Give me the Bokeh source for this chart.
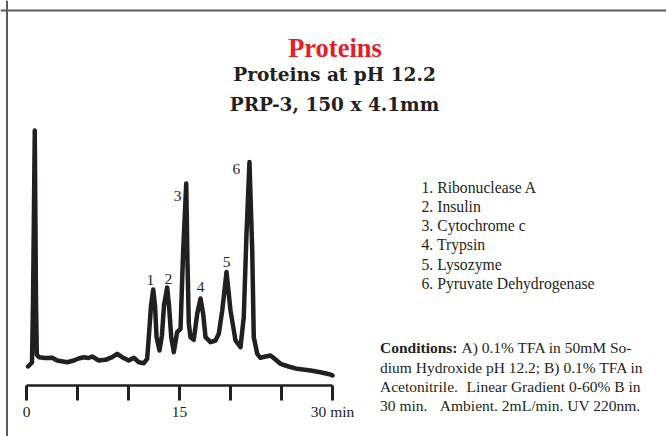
from bokeh.plotting import figure
from bokeh.models import Range1d, LinearAxis, FixedTicker, Label, Span, ColumnDataSource
from bokeh.embed import file_html
from bokeh.resources import INLINE

# ---- data (retention time in min, detector response in arbitrary units) ----
time_min = [0.15, 0.54, 0.64, 0.81, 0.93, 1.01, 1.21, 1.86, 2.52, 3.01, 3.99, 4.64, 5.10,
            5.62, 6.08, 6.44, 7.09, 7.75, 8.40, 8.89, 9.38, 10.03, 10.52, 11.01, 11.50,
            11.83, 11.99, 12.21, 12.42, 12.60, 12.75, 13.04, 13.28, 13.48, 13.79, 13.97,
            14.19, 14.44, 14.77, 15.10, 15.36, 15.66, 15.78, 15.91, 16.08, 16.40, 16.74,
            17.06, 17.32, 17.55, 18.04, 18.53, 18.85, 19.19, 19.61, 20.00, 20.49, 20.98,
            21.30, 21.57, 21.86, 22.13, 22.28, 22.62, 22.94, 23.43, 23.92, 24.41, 24.90,
            25.69, 26.54, 27.84, 28.82, 29.80, 30.00]
response = [18.5, 22.5, 84.5, 254.5, 84.5, 30.5, 27.8, 27.0, 27.2, 24.5, 22.8, 24.5, 26.5,
            27.8, 27.0, 28.5, 24.5, 25.2, 27.8, 31.2, 27.8, 24.5, 27.2, 22.8, 21.8,
            26.2, 47.8, 79.5, 95.5, 79.5, 47.8, 34.5, 49.5, 79.5, 97.5, 79.5,
            47.8, 32.8, 52.8, 56.2, 134.5, 201.5, 124.5, 61.5, 47.8, 45.2, 71.5,
            86.5, 71.2, 47.8, 42.8, 44.5, 51.2, 74.5, 113.0, 74.5, 44.5, 37.8,
            67.8, 151.5, 223.0, 134.5, 47.8, 31.2, 27.2, 28.5, 29.5, 25.5, 21.2,
            18.5, 16.2, 14.5, 12.8, 10.5, 9.5]

peak_ids = ["1", "2", "3", "4", "5", "6"]
peak_time = [12.42, 13.79, 15.66, 17.06, 19.61, 21.86]
peak_height = [95.5, 97.5, 201.5, 86.5, 113.0, 223.0]
compounds = ["Ribonuclease A", "Insulin", "Cytochrome c", "Trypsin", "Lysozyme",
             "Pyruvate Dehydrogenase"]

tick_values = [0, 5, 10, 15, 20, 25, 30]
tick_labels = ["0", "", "", "15", "", "", "30 min"]

title = "Proteins"
subtitle1 = "Proteins at pH 12.2"
subtitle2 = "PRP-3, 150 x 4.1mm"
cond_head = "Conditions:"
# each line: (left part, right-justified part or None)
cond_lines = [("A) 0.1% TFA in 50mM So-", None),
              ("dium Hydroxide pH 12.2; B) 0.1% TFA in", None),
              ("Acetonitrile.", "Linear Gradient 0-60% B in"),
              ("30 min.", "Ambient. 2mL/min. UV 220nm.")]

# ---- layout helpers (page pixels -> plot coordinates) ----
PX_PER_MIN = 10.2
X0_PX = 26.0
BASE_PX = 384.5
W, H = 666, 436
def X(px):
    return (px - X0_PX) / PX_PER_MIN
def Y(py):
    return BASE_PX - py

INK = "#231f20"
SERIF = "Liberation Serif"

p = figure(width=W, height=H, output_backend="svg", toolbar_location=None,
           x_axis_type=None, y_axis_type=None,
           x_range=Range1d(X(0), X(W)), y_range=Range1d(Y(H), Y(0)),
           min_border=0, min_border_left=0, min_border_right=0,
           min_border_top=0, min_border_bottom=0,
           outline_line_color=None, background_fill_color="white",
           border_fill_color="white")
p.grid.visible = False

# frame lines (top and left)
p.add_layout(Span(location=Y(10), dimension="width", line_color="#5a5a5a", line_width=2))
p.add_layout(Span(location=X(6.5), dimension="height", line_color="#5a5a5a", line_width=2))

# chromatogram trace
p.line(time_min, response, line_color=INK, line_width=4.5, line_join="round", line_cap="round")

# peak numbers
src = ColumnDataSource(dict(x=peak_time, y=peak_height, t=peak_ids,
                            xo=[-2.7, 1.3, -8.7, 0, 0, -13],
                            yo=[-10, -8.5, 12, -11.5, -10.5, 6.5]))
p.text(x="x", y="y", text="t", x_offset="xo", y_offset="yo", source=src,
       text_align="center", text_baseline="alphabetic",
       text_font=SERIF, text_font_size="15.5px", text_color=INK)

# time axis
ax = LinearAxis(fixed_location=0, bounds=(0, 30),
                ticker=FixedTicker(ticks=tick_values, minor_ticks=[]),
                major_label_overrides={v: l for v, l in zip(tick_values, tick_labels)},
                axis_line_color=INK, axis_line_width=2.5,
                major_tick_line_color=INK, major_tick_line_width=3,
                major_tick_in=0, major_tick_out=15,
                minor_tick_line_color=None,
                major_label_standoff=3,
                major_label_text_font=SERIF, major_label_text_font_size="15.5px",
                major_label_text_color=INK)
p.add_layout(ax, "below")

# titles
p.add_layout(Label(x=X(334.5), y=Y(47.7), text=title, text_align="center",
                   text_baseline="alphabetic", text_font=SERIF, text_font_size="26.5px",
                   text_font_style="bold", text_color="#e41e26"))
p.add_layout(Label(x=X(334), y=Y(74), text=subtitle1, text_align="center",
                   text_baseline="alphabetic", text_font="DejaVu Serif", text_font_size="18.5px",
                   text_font_style="bold", text_color=INK))
p.add_layout(Label(x=X(334), y=Y(104), text=subtitle2, text_align="center",
                   text_baseline="alphabetic", text_font="DejaVu Serif", text_font_size="18.5px",
                   text_font_style="bold", text_color=INK))

# legend of compounds
for i, name in enumerate(compounds):
    p.add_layout(Label(x=X(421), y=Y(186.7 + 19.2 * i), text=f"{peak_ids[i]}. {name}",
                       text_align="left", text_baseline="alphabetic", text_font=SERIF,
                       text_font_size="15.7px", text_color=INK))

# conditions
p.add_layout(Label(x=X(379.5), y=Y(347.3), text=cond_head, text_align="left",
                   text_baseline="alphabetic", text_font=SERIF, text_font_size="15.5px",
                   text_font_style="bold", text_color=INK))
for i, (left, right) in enumerate(cond_lines):
    x_px = 461 if i == 0 else 379.5
    y_px = 347.3 + 19.3 * i
    p.add_layout(Label(x=X(x_px), y=Y(y_px), text=left, text_align="left",
                       text_baseline="alphabetic", text_font=SERIF, text_font_size="15.5px",
                       text_color=INK))
    if right is not None:
        p.add_layout(Label(x=X(640), y=Y(y_px), text=right, text_align="right",
                           text_baseline="alphabetic", text_font=SERIF, text_font_size="15.5px",
                           text_color=INK))

open("out.html", "w").write(file_html(p, INLINE))
